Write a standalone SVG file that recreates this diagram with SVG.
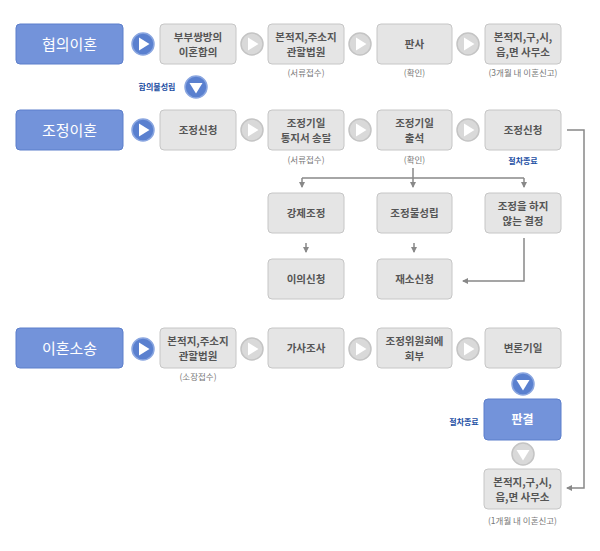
<svg xmlns="http://www.w3.org/2000/svg" width="600" height="551" viewBox="0 0 600 551">
<style>
.hd{fill:#7393da;stroke:#5d7fcb;stroke-width:1}
.bx{fill:#e5e5e5;stroke:#c6c6c6;stroke-width:1}
.bb{fill:#7393da;stroke:#5d7fcb;stroke-width:1}
.ht{font-family:"Noto Sans CJK KR","Noto Sans",sans-serif;font-size:15px;fill:#fff;text-anchor:middle}
.t{font-family:"Noto Sans CJK KR","Noto Sans",sans-serif;font-size:10.5px;font-weight:bold;fill:#555;text-anchor:middle}
.s{font-family:"Noto Sans CJK KR","Noto Sans",sans-serif;font-size:8.5px;fill:#777;text-anchor:middle}
.bl{font-family:"Noto Sans CJK KR","Noto Sans",sans-serif;font-size:8px;font-weight:bold;fill:#1c4ea3;text-anchor:middle}
.cb{fill:#5a80cf;stroke:#8aa6e0;stroke-width:1.5}
.cg{fill:#d9d9d9;stroke:#c4c4c4;stroke-width:1.5}
.tri{fill:#fff}
.ln{fill:none;stroke:#888;stroke-width:1.5}
</style>
<defs>
<marker id="ah" viewBox="0 0 6 6" refX="5" refY="3" markerWidth="4" markerHeight="4" orient="auto"><path d="M0,0 L6,3 L0,6 z" fill="#888"/></marker>
<g id="pb"><circle r="11" class="cb"/><path d="M-4,-6.5 L6.5,0 L-4,6.5 z" class="tri"/></g>
<g id="pg"><circle r="11" class="cg"/><path d="M-4,-6.5 L6.5,0 L-4,6.5 z" class="tri"/></g>
<g id="db"><circle r="11" class="cb"/><path d="M-6.5,-4 L6.5,-4 L0,6.5 z" class="tri"/></g>
<g id="dg"><circle r="11" class="cg"/><path d="M-6.5,-4 L6.5,-4 L0,6.5 z" class="tri"/></g>
</defs>

<g id="connectors">
<use href="#pb" x="143" y="44"/>
<use href="#pg" x="252" y="44"/>
<use href="#pg" x="360" y="44"/>
<use href="#pg" x="468" y="44"/>
<use href="#db" x="196" y="87"/>
<use href="#pb" x="143" y="130"/>
<use href="#pg" x="252" y="130"/>
<use href="#pg" x="360" y="130"/>
<use href="#pg" x="468" y="130"/>
<use href="#pb" x="143" y="349"/>
<use href="#pg" x="252" y="349"/>
<use href="#pg" x="360" y="349"/>
<use href="#pg" x="468" y="349"/>
<use href="#db" x="523" y="384"/>
<use href="#dg" x="523" y="454"/>
<path class="ln" d="M413,168 V178"/>
<path class="ln" d="M302,178 H524"/>
<path class="ln" d="M302,178 V187" marker-end="url(#ah)"/>
<path class="ln" d="M413,178 V187" marker-end="url(#ah)"/>
<path class="ln" d="M524,178 V187" marker-end="url(#ah)"/>
<path class="ln" d="M306,243 V252" marker-end="url(#ah)"/>
<path class="ln" d="M414,243 V252" marker-end="url(#ah)"/>
<path class="ln" d="M524,238 V281 H463" marker-end="url(#ah)"/>
<path class="ln" d="M567,130 H584 V488 H567" marker-end="url(#ah)"/>
</g>

<g id="n-hyeobui"><rect class="hd" x="16" y="24" width="107" height="40" rx="4"/><text class="ht" x="69.5" y="49.5">협의이혼</text></g>
<g id="n-bubu"><rect class="bx" x="160" y="24" width="76" height="40" rx="4"/><text class="t" x="198" y="40.5">부부쌍방의</text><text class="t" x="198" y="55.5">이혼합의</text></g>
<g id="n-bonjeok1"><rect class="bx" x="268" y="24" width="76" height="40" rx="4"/><text class="t" x="306" y="40.5">본적지,주소지</text><text class="t" x="306" y="55.5">관할법원</text><text class="s" x="306" y="76">(서류접수)</text></g>
<g id="n-pansa"><rect class="bx" x="377" y="24" width="75" height="40" rx="4"/><text class="t" x="414.5" y="48">판사</text><text class="s" x="414.5" y="76">(확인)</text></g>
<g id="n-office1"><rect class="bx" x="485" y="24" width="76" height="40" rx="4"/><text class="t" x="523" y="40.5">본적지,구,시,</text><text class="t" x="523" y="55.5">읍,면 사무소</text><text class="s" x="523" y="76">(3개월 내 이혼신고)</text></g>
<g id="n-bulseong"><text class="bl" x="157" y="90">합의불성립</text></g>

<g id="n-jojeong"><rect class="hd" x="16" y="110" width="107" height="40" rx="4"/><text class="ht" x="69.5" y="135.5">조정이혼</text></g>
<g id="n-sincheong1"><rect class="bx" x="160" y="110" width="76" height="40" rx="4"/><text class="t" x="198" y="134">조정신청</text></g>
<g id="n-tongji"><rect class="bx" x="268" y="110" width="76" height="40" rx="4"/><text class="t" x="306" y="126.5">조정기일</text><text class="t" x="306" y="141.5">통지서 송달</text><text class="s" x="306" y="163">(서류접수)</text></g>
<g id="n-chulseok"><rect class="bx" x="377" y="110" width="75" height="40" rx="4"/><text class="t" x="414.5" y="126.5">조정기일</text><text class="t" x="414.5" y="141.5">출석</text><text class="s" x="414.5" y="163">(확인)</text></g>
<g id="n-sincheong2"><rect class="bx" x="485" y="110" width="76" height="40" rx="4"/><text class="t" x="523" y="134">조정신청</text><text class="bl" x="523" y="164">절차종료</text></g>

<g id="n-gangje"><rect class="bx" x="268" y="193" width="76" height="40" rx="4"/><text class="t" x="306" y="217">강제조정</text></g>
<g id="n-jbulseong"><rect class="bx" x="377" y="193" width="75" height="40" rx="4"/><text class="t" x="414.5" y="217">조정불성립</text></g>
<g id="n-haji"><rect class="bx" x="485" y="193" width="76" height="40" rx="4"/><text class="t" x="523" y="209.5">조정을 하지</text><text class="t" x="523" y="224.5">않는 결정</text></g>
<g id="n-iui"><rect class="bx" x="268" y="259" width="76" height="40" rx="4"/><text class="t" x="306" y="283">이의신청</text></g>
<g id="n-jaeso"><rect class="bx" x="377" y="259" width="75" height="40" rx="4"/><text class="t" x="414.5" y="283">재소신청</text></g>

<g id="n-sosong"><rect class="hd" x="16" y="328" width="107" height="40" rx="4"/><text class="ht" x="69.5" y="353.5">이혼소송</text></g>
<g id="n-bonjeok2"><rect class="bx" x="160" y="328" width="76" height="40" rx="4"/><text class="t" x="198" y="344.5">본적지,주소지</text><text class="t" x="198" y="359.5">관할법원</text><text class="s" x="198" y="380">(소장접수)</text></g>
<g id="n-gasa"><rect class="bx" x="268" y="328" width="76" height="40" rx="4"/><text class="t" x="306" y="352">가사조사</text></g>
<g id="n-wiwon"><rect class="bx" x="377" y="328" width="75" height="40" rx="4"/><text class="t" x="414.5" y="344.5">조정위원회에</text><text class="t" x="414.5" y="359.5">회부</text></g>
<g id="n-byeonron"><rect class="bx" x="485" y="328" width="76" height="40" rx="4"/><text class="t" x="523" y="352">변론기일</text></g>
<g id="n-pangyeol"><rect class="bb" x="484" y="399" width="77" height="41" rx="4"/><text class="ht" x="522.5" y="424" style="font-size:12px;font-weight:bold">판결</text><text class="bl" x="464" y="425">절차종료</text></g>
<g id="n-office2"><rect class="bx" x="484" y="469" width="77" height="40" rx="4"/><text class="t" x="522.5" y="485.5">본적지,구,시,</text><text class="t" x="522.5" y="500.5">읍,면 사무소</text><text class="s" x="522.5" y="524">(1개월 내 이혼신고)</text></g>
</svg>
